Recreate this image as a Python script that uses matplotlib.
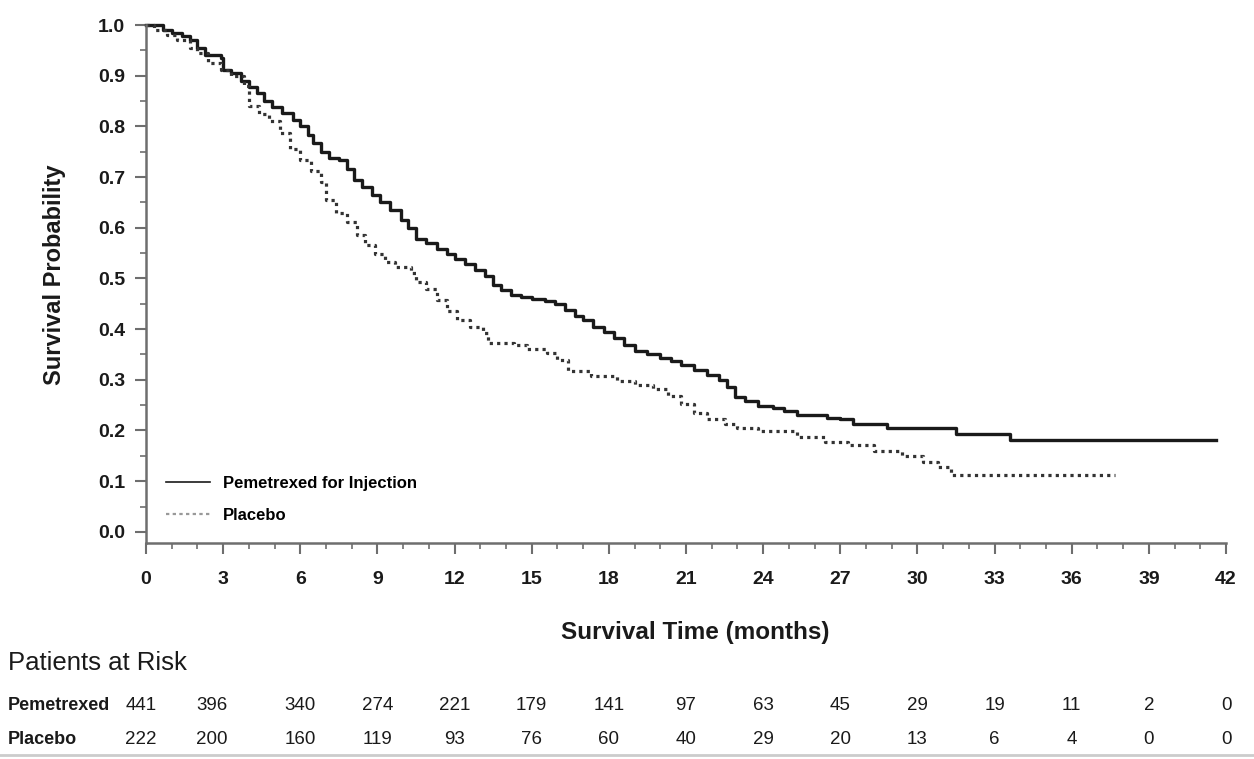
import matplotlib
matplotlib.use("Agg")
import matplotlib.pyplot as plt
import matplotlib.transforms as mtrans
from matplotlib.lines import Line2D
from matplotlib.ticker import MultipleLocator
import numpy as np

# Kaplan-Meier curves (months, survival probability)
pem_t = [0, 0.66, 1.0, 1.4, 1.7, 2.0, 2.3, 2.9, 3.0, 3.3, 3.7, 4.0, 4.3, 4.6, 4.9,
         5.3, 5.7, 6.0, 6.3, 6.5, 6.8, 7.1, 7.5, 7.8, 8.1, 8.4, 8.8, 9.1, 9.5, 9.9,
         10.2, 10.5, 10.9, 11.3, 11.7, 12.0, 12.4, 12.8, 13.2, 13.5, 13.8, 14.2,
         14.6, 15.0, 15.5, 15.9, 16.3, 16.7, 17.0, 17.4, 17.8, 18.2, 18.6, 19.0,
         19.5, 20.0, 20.4, 20.8, 21.3, 21.8, 22.3, 22.6, 22.9, 23.3, 23.8, 24.4,
         24.8, 25.3, 26.5, 27.0, 27.5, 28.8, 31.5, 33.6, 41.6]
pem_s = [1.0, 0.990, 0.985, 0.978, 0.970, 0.955, 0.940, 0.935, 0.912, 0.905, 0.890,
         0.878, 0.865, 0.850, 0.838, 0.826, 0.813, 0.800, 0.782, 0.767, 0.750, 0.738,
         0.733, 0.715, 0.695, 0.680, 0.665, 0.650, 0.635, 0.615, 0.600, 0.578, 0.570,
         0.558, 0.548, 0.538, 0.528, 0.517, 0.505, 0.488, 0.477, 0.468, 0.463, 0.460,
         0.455, 0.450, 0.438, 0.425, 0.418, 0.405, 0.395, 0.383, 0.368, 0.356, 0.350,
         0.343, 0.337, 0.330, 0.320, 0.310, 0.300, 0.285, 0.266, 0.258, 0.248, 0.245,
         0.238, 0.231, 0.225, 0.222, 0.213, 0.204, 0.194, 0.181, 0.181]

pla_t = [0, 0.3, 0.8, 1.2, 1.7, 2.0, 2.4, 2.9, 3.3, 3.8, 4.0, 4.4, 4.8, 5.2, 5.6,
         6.0, 6.4, 6.8, 7.0, 7.4, 7.8, 8.2, 8.5, 8.9, 9.3, 9.7, 10.3, 10.5, 10.9,
         11.3, 11.7, 12.1, 12.6, 13.1, 13.3, 14.3, 14.8, 15.6, 16.0, 16.4, 17.3,
         18.3, 19.0, 19.7, 20.3, 20.8, 21.3, 21.8, 22.5, 23.0, 23.8, 25.3, 26.4,
         27.3, 28.3, 29.4, 30.2, 30.8, 31.3, 37.7]
pla_s = [1.0, 0.99, 0.98, 0.97, 0.955, 0.945, 0.925, 0.911, 0.900, 0.880, 0.840,
         0.825, 0.810, 0.787, 0.755, 0.734, 0.712, 0.690, 0.655, 0.630, 0.612, 0.585,
         0.565, 0.548, 0.533, 0.522, 0.510, 0.492, 0.480, 0.458, 0.435, 0.418, 0.405,
         0.392, 0.373, 0.369, 0.360, 0.353, 0.340, 0.318, 0.308, 0.298, 0.290, 0.282,
         0.268, 0.252, 0.235, 0.222, 0.212, 0.205, 0.198, 0.188, 0.178, 0.172, 0.160,
         0.150, 0.138, 0.128, 0.113, 0.113]

risk_times = [0, 3, 6, 9, 12, 15, 18, 21, 24, 27, 30, 33, 36, 39, 42]
risk_pem = [441, 396, 340, 274, 221, 179, 141, 97, 63, 45, 29, 19, 11, 2, 0]
risk_pla = [222, 200, 160, 119, 93, 76, 60, 40, 29, 20, 13, 6, 4, 0, 0]

narrow = ['Liberation Sans Narrow', 'Liberation Sans', 'DejaVu Sans']
plt.rcParams['font.family'] = ['Liberation Sans', 'DejaVu Sans']

fig = plt.figure(figsize=(12.54, 7.59), dpi=100)
ax = fig.add_axes([146 / 1254, 1 - 543 / 759, 1080 / 1254, 518 / 759])

ax.step(pem_t, pem_s, where='post', color='#1a1a1a', lw=2.4, clip_on=False)
ax.step(pla_t, pla_s, where='post', color='#333333', lw=2.3, ls=(0, (1.0, 1.3)),
        clip_on=False)

ax.set_xlim(0, 42)
ax.set_ylim(-0.022, 1.0)
ax.xaxis.set_major_locator(MultipleLocator(3))
ax.xaxis.set_minor_locator(MultipleLocator(1))
ax.yaxis.set_minor_locator(MultipleLocator(0.05))
ax.set_yticks(np.arange(0, 1.01, 0.1))
ax.set_yticklabels([f'{v:.1f}' for v in np.arange(0, 1.01, 0.1)])

for s in ['top', 'right']:
    ax.spines[s].set_visible(False)
for s in ['left', 'bottom']:
    ax.spines[s].set_color('#6e6e6e')
    ax.spines[s].set_linewidth(1.8)
ax.tick_params(which='major', length=8, width=1.5, color='#6e6e6e',
               labelsize=14, pad=7)
ax.tick_params(axis='x', which='major', pad=12)
ax.tick_params(which='minor', length=4, width=1.2, color='#6e6e6e')
for lab in ax.get_xticklabels() + ax.get_yticklabels():
    lab.set_fontweight('bold')
    lab.set_color('#1a1a1a')

fig.text(55 / 1254, 1 - 275 / 759, 'Survival Probability', fontsize=17,
         fontweight='bold', color='#1a1a1a', rotation=90, ha='center', va='center')
fig.text(695 / 1254, 1 - 633 / 759, 'Survival Time (months)', fontsize=17.5,
         fontweight='bold', color='#1a1a1a', ha='center', va='center')

handles = [Line2D([], [], color='#1a1a1a', lw=1.2),
           Line2D([], [], color='#999999', lw=1.6, ls=(0, (1.5, 1.5)))]
ax.legend(handles, ['Pemetrexed for Injection', 'Placebo'], loc='lower left',
          bbox_to_anchor=(0.005, 0.01), frameon=False, handlelength=2.6,
          labelspacing=1.0, prop={'family': narrow, 'weight': 'bold', 'size': 12})

fig.text(8 / 1254, 1 - 663 / 759, 'Patients at Risk', fontsize=18.5,
         color='#1a1a1a', ha='left', va='center')
tr = mtrans.blended_transform_factory(ax.transData, fig.transFigure)
for label, row, ypx in [('Pemetrexed', risk_pem, 706), ('Placebo', risk_pla, 739)]:
    y = 1 - ypx / 759
    fig.text(8 / 1254, y, label, fontsize=13, fontweight='bold',
             family=narrow, color='#1a1a1a', ha='left', va='center')
    for t, n in zip(risk_times, row):
        xoff = -0.2 if t == 0 else (-0.45 if t == 3 else 0)
        ax.text(t + xoff, y, str(n), transform=tr, fontsize=13.5, family=narrow,
                color='#1a1a1a', ha='center', va='center', clip_on=False)

fig.add_artist(Line2D([0, 1], [1 - 755 / 759] * 2, transform=fig.transFigure,
                      color='#cccccc', lw=2))

fig.savefig('out.png', dpi=100)
